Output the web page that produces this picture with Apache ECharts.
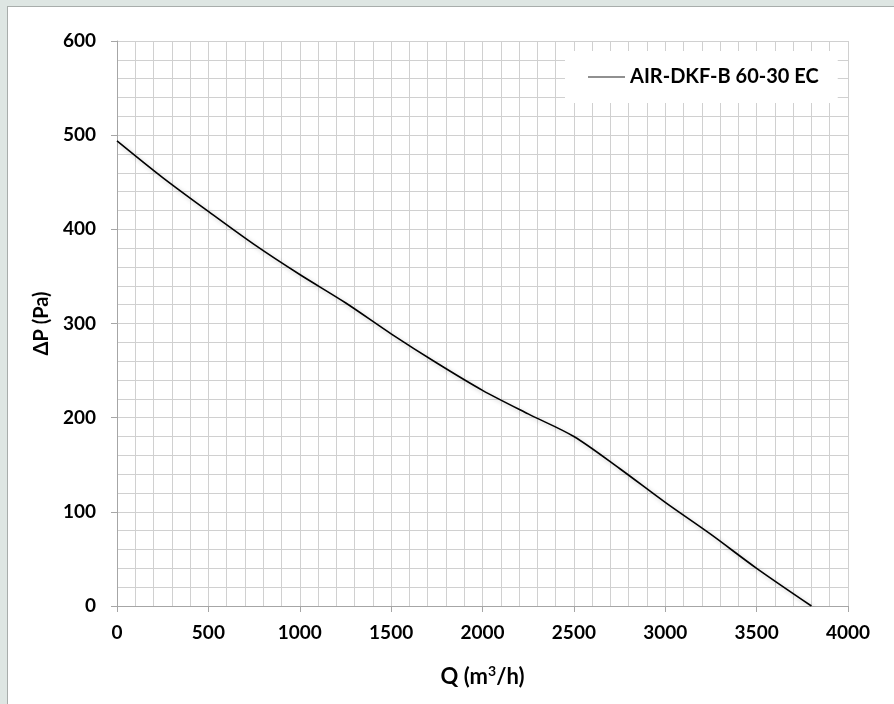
<!DOCTYPE html>
<html>
<head>
<meta charset="utf-8">
<script src="https://cdn.jsdelivr.net/npm/echarts@6/dist/echarts.min.js"></script>
<style>
  html, body { margin: 0; padding: 0; background: #dee6e3; width: 894px; height: 704px; overflow: hidden; }
  #panel { position: absolute; left: 7px; top: 6px; width: 900px; height: 720px; background: #ffffff; border-left: 1px solid #a8adab; border-top: 1px solid #a8adab; }
  #chart { position: absolute; left: 0; top: 0; width: 894px; height: 704px; }
</style>
</head>
<body>
<div id="panel"></div>
<div id="chart"></div>
<script>
// Data
const seriesName = 'AIR-DKF-B 60-30 EC';
const flowQ = [0, 250, 500, 750, 1000, 1250, 1500, 1750, 2000, 2250, 2500, 2750, 3000, 3250, 3500, 3800];
const pressureDP = [494, 455, 419, 384, 352, 322, 289, 258, 229, 204, 180, 146, 110, 76, 40, 0];
const xTicks = [0, 500, 1000, 1500, 2000, 2500, 3000, 3500, 4000];
const yTicks = [0, 100, 200, 300, 400, 500, 600];
const xAxisName = '{t|Q (m}{sup|3}{t|/h)}';
const yAxisName = 'ΔP (Pa)';

const points = flowQ.map((q, i) => [q, pressureDP[i]]);
const FONT = 'Lato';

const chart = echarts.init(document.getElementById('chart'), null, { renderer: 'canvas' });
chart.setOption({
  backgroundColor: 'transparent',
  animation: false,
  grid: { left: 117, right: 46, top: 41, bottom: 98, containLabel: false },
  legend: {
    show: true,
    left: 565, top: 51,
    padding: [16, 19, 16, 23],
    backgroundColor: '#ffffff',
    icon: 'rect',
    itemWidth: 37, itemHeight: 1, itemGap: 6,
    textStyle: { fontFamily: FONT, fontWeight: 'bold', fontSize: 20, color: '#000' },
    data: [{ name: seriesName, icon: 'rect', itemStyle: { color: '#222' } }]
  },
  xAxis: {
    type: 'value',
    min: xTicks[0], max: xTicks[xTicks.length - 1], interval: 500,
    name: xAxisName, nameLocation: 'middle', nameGap: 58,
    nameTextStyle: {
      fontFamily: FONT, fontWeight: 'bold', fontSize: 22, color: '#000',
      rich: {
        t: { fontFamily: FONT, fontWeight: 'bold', fontSize: 22, color: '#000', lineHeight: 26 },
        sup: { fontFamily: FONT, fontWeight: 'bold', fontSize: 14, color: '#000', verticalAlign: 'top', lineHeight: 26, padding: [0, 0, 8, 0] }
      }
    },
    axisLine: { show: true, onZero: false, lineStyle: { color: '#a6a6a6', width: 1 } },
    axisTick: { show: true, length: 6, lineStyle: { color: '#a6a6a6' } },
    axisLabel: { fontFamily: FONT, fontWeight: 'bold', fontSize: 19, color: '#000', margin: 17, formatter: v => String(v) },
    splitLine: { show: true, lineStyle: { color: '#d0d0d0', width: 1 } },
    minorTick: { show: false, splitNumber: 5 },
    minorSplitLine: { show: true, lineStyle: { color: '#d0d0d0', width: 1 } }
  },
  yAxis: {
    type: 'value',
    min: yTicks[0], max: yTicks[yTicks.length - 1], interval: 100,
    name: yAxisName, nameLocation: 'middle', nameGap: 62,
    nameTextStyle: { fontFamily: FONT, fontWeight: 'bold', fontSize: 20, color: '#000' },
    axisLine: { show: true, onZero: false, lineStyle: { color: '#a6a6a6', width: 1 } },
    axisTick: { show: true, length: 6, lineStyle: { color: '#a6a6a6' } },
    axisLabel: { fontFamily: FONT, fontWeight: 'bold', fontSize: 19, color: '#000', margin: 21, formatter: v => String(v) },
    splitLine: { show: true, lineStyle: { color: '#d0d0d0', width: 1 } },
    minorTick: { show: false, splitNumber: 5 },
    minorSplitLine: { show: true, lineStyle: { color: '#d0d0d0', width: 1 } }
  },
  series: [{
    name: seriesName,
    type: 'line',
    data: points,
    smooth: 0.3,
    symbol: 'none',
    lineStyle: { color: '#000000', width: 1.6, shadowColor: 'rgba(0,0,0,0.25)', shadowBlur: 4, shadowOffsetX: 2, shadowOffsetY: 2 },
    itemStyle: { color: '#000000' }
  }]
});
</script>
</body>
</html>
